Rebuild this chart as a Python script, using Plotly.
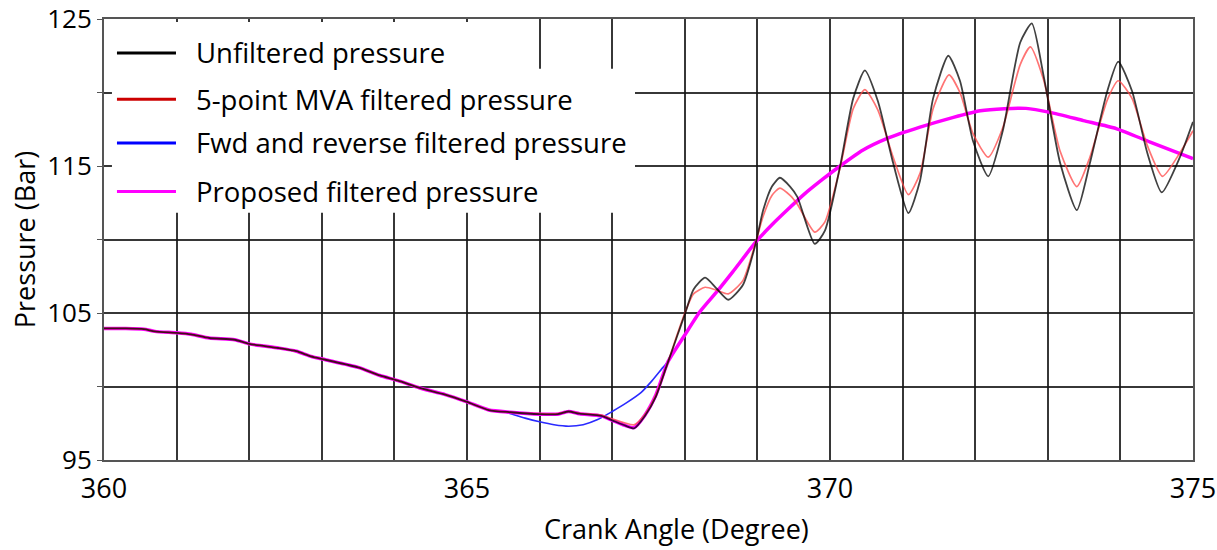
import plotly.graph_objects as go

# ---------------- data ----------------
# shared early portion (all four traces coincide)
angle_early = [360.0, 360.3, 360.55, 360.7, 361.0, 361.2, 361.45, 361.8, 362.0, 362.4,
               362.65, 362.85, 363.05, 363.5, 363.8, 364.05, 364.35, 364.7, 365.0, 365.3]
p_early = [103.95, 103.95, 103.9, 103.75, 103.65, 103.55, 103.3, 103.18, 102.9, 102.62,
           102.4, 102.05, 101.82, 101.3, 100.75, 100.4, 99.9, 99.45, 98.95, 98.4]

# unfiltered pressure
angle_raw = [365.6, 366.0, 366.25, 366.4, 366.55, 366.85, 367.0, 367.15, 367.3, 367.45,
             367.6, 367.75, 367.9, 368.0, 368.12, 368.28, 368.44, 368.6, 368.8, 368.97,
             369.08, 369.2, 369.31, 369.45, 369.55, 369.79, 369.93, 370.14, 370.32, 370.48,
             370.66, 370.87, 371.08, 371.24, 371.42, 371.63, 371.79, 371.97, 372.18, 372.38,
             372.62, 372.78, 372.94, 373.17, 373.4, 373.58, 373.82, 373.97, 374.16, 374.37,
             374.57, 374.82, 375.0]
p_raw = [98.25, 98.12, 98.12, 98.3, 98.15, 98.0, 97.7, 97.4, 97.15, 98.0,
         99.3, 101.4, 103.5, 104.9, 106.6, 107.4, 106.65, 105.9, 106.9, 109.6,
         112.0, 113.6, 114.2, 113.6, 112.9, 109.7, 110.6, 115.0, 119.6, 121.5,
         119.4, 115.2, 111.8, 114.0, 119.6, 122.5, 120.8, 116.7, 114.3, 117.4,
         123.4, 124.7, 121.2, 115.2, 112.0, 115.2, 120.1, 122.1, 120.1, 115.9,
         113.2, 115.6, 118.0]

# 5-point moving-average filtered pressure
angle_mva = [365.6, 366.0, 366.25, 366.4, 366.55, 366.85, 367.0, 367.3, 367.45, 367.6,
             367.75, 367.9, 368.0, 368.12, 368.28, 368.44, 368.6, 368.8, 368.97, 369.08,
             369.2, 369.31, 369.45, 369.55, 369.79, 369.93, 370.14, 370.32, 370.48, 370.66,
             370.87, 371.08, 371.24, 371.42, 371.64, 371.79, 371.97, 372.18, 372.38, 372.62,
             372.76, 372.94, 373.17, 373.4, 373.58, 373.82, 373.97, 374.16, 374.37, 374.58,
             374.82, 375.0]
p_mva = [98.25, 98.15, 98.15, 98.3, 98.18, 98.05, 97.8, 97.4, 98.1, 99.4,
         101.4, 103.6, 105.0, 106.3, 106.75, 106.55, 106.3, 107.2, 109.7, 111.6,
         113.0, 113.5, 113.0, 112.4, 110.5, 111.2, 114.9, 118.9, 120.2, 118.8,
         115.6, 113.05, 114.5, 118.9, 121.2, 120.0, 117.2, 115.6, 117.6, 121.9,
         123.1, 120.9, 116.0, 113.6, 115.6, 119.5, 120.8, 119.6, 116.4, 114.3,
         115.9, 117.4]

# forward and reverse filtered pressure
angle_fwd = [365.5, 365.6, 365.8, 366.0, 366.2, 366.4, 366.6, 366.8, 367.0, 367.2,
             367.4, 367.55, 367.7, 367.77]
p_fwd = [98.3, 98.15, 97.85, 97.6, 97.4, 97.3, 97.4, 97.75, 98.3, 98.9,
         99.6, 100.4, 101.3, 101.7]

# proposed filtered pressure
angle_prop = [365.6, 366.0, 366.25, 366.4, 366.55, 366.85, 367.0, 367.15, 367.3, 367.45,
              367.6, 367.77, 368.0, 368.21, 368.45, 368.66, 368.99, 369.2, 369.41, 369.65,
              369.9, 370.14, 370.45, 370.78, 371.24, 371.7, 372.07, 372.4, 372.7, 373.03,
              373.49, 373.95, 374.41, 375.0]
p_prop = [98.25, 98.12, 98.12, 98.3, 98.15, 98.0, 97.7, 97.4, 97.2, 98.05,
          99.4, 101.7, 103.5, 105.1, 106.5, 107.8, 109.9, 111.0, 112.0, 113.1,
          114.1, 115.0, 116.07, 116.86, 117.64, 118.31, 118.76, 118.9, 118.92, 118.65,
          118.09, 117.53, 116.63, 115.51]

series_names = ["Unfiltered pressure", "5-point MVA filtered pressure",
                "Fwd and reverse filtered pressure", "Proposed filtered pressure"]
legend_colors = ["#000000", "#cc0000", "#0000ff", "#ff00ff"]

x_tickvals = list(range(360, 376))
x_ticktext = [str(v) if v % 5 == 0 else "" for v in x_tickvals]
y_tickvals = list(range(95, 126, 5))
y_ticktext = [str(v) if v % 10 == 5 else "" for v in y_tickvals]

x_title = "Crank Angle (Degree)"
y_title = "Pressure (Bar)"

# ---------------- figure ----------------
FONT = "Open Sans"
fig = go.Figure()

line_common = dict(shape="spline", smoothing=0.6)
fig.add_trace(go.Scatter(x=angle_early + angle_fwd, y=p_early + p_fwd, mode="lines",
                         line=dict(color="#2a2aff", width=1.6, **line_common),
                         name=series_names[2], showlegend=False))
fig.add_trace(go.Scatter(x=angle_early + angle_prop, y=p_early + p_prop, mode="lines",
                         line=dict(color="#ff00ff", width=3.5, **line_common),
                         name=series_names[3], showlegend=False))
fig.add_trace(go.Scatter(x=angle_early + angle_mva, y=p_early + p_mva, mode="lines",
                         line=dict(color="rgba(255,70,70,0.75)", width=1.7, **line_common),
                         name=series_names[1], showlegend=False))
fig.add_trace(go.Scatter(x=angle_early + angle_raw, y=p_early + p_raw, mode="lines",
                         line=dict(color="rgba(0,0,0,0.75)", width=1.8, **line_common),
                         name=series_names[0], showlegend=False))

# manual legend box (covers the grid like the original)
fig.add_shape(type="rect", xref="paper", yref="paper", x0=0.0073, x1=0.394, y0=0.886, y1=0.993,
              fillcolor="white", line=dict(width=0), layer="above")
fig.add_shape(type="rect", xref="paper", yref="paper", x0=0.0073, x1=0.4876, y0=0.5605, y1=0.887,
              fillcolor="white", line=dict(width=0), layer="above")
row_y = [0.923, 0.818, 0.719, 0.609]
for name, col, yy in zip(series_names, legend_colors, row_y):
    fig.add_shape(type="line", xref="paper", yref="paper", x0=0.0119, x1=0.0661, y0=yy, y1=yy,
                  line=dict(color=col, width=3), layer="above")
    fig.add_annotation(x=0.0826, y=yy, xref="paper", yref="paper", text=name, showarrow=False,
                       xanchor="left", yanchor="middle", font=dict(family=FONT, size=27.5, color="black"))

# x-axis title (slightly right of centre, as in the original)
fig.add_annotation(x=0.526, y=-0.155, xref="paper", yref="paper", text=x_title, showarrow=False,
                   xanchor="center", yanchor="middle", font=dict(family=FONT, size=27, color="black"))

fig.update_layout(
    width=1217, height=550,
    margin=dict(l=104, r=24, t=19, b=90),
    paper_bgcolor="white", plot_bgcolor="white",
    font=dict(family=FONT, color="black"),
    showlegend=False,
)
fig.update_xaxes(range=[360, 375], tickvals=x_tickvals, ticktext=x_ticktext,
                 tickfont=dict(size=27), showgrid=True, gridcolor="rgba(20,20,20,0.85)", gridwidth=2,
                 showline=True, linecolor="#555", linewidth=2, mirror=True, ticks="", zeroline=False,
                 automargin=False, ticklabelstandoff=4, ticklabeloverflow="allow")
fig.update_yaxes(range=[95, 125.0001], tickvals=y_tickvals, ticktext=y_ticktext,
                 tickfont=dict(size=26), showgrid=True, gridcolor="rgba(20,20,20,0.85)", gridwidth=2,
                 showline=True, linecolor="#555", linewidth=2, mirror=True, ticks="outside",
                 ticklen=5, tickcolor="#555", zeroline=False, automargin=False,
                 ticklabeloverflow="allow",
                 title=dict(text=y_title, font=dict(size=27), standoff=4))

fig.write_html("out.html")
